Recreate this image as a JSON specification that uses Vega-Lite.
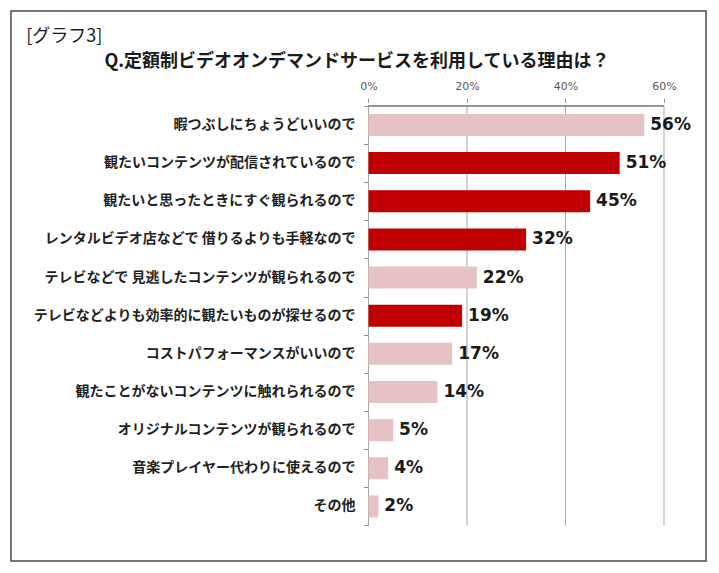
{
  "$schema": "https://vega.github.io/schema/vega-lite/v6.json",
  "autosize": "none",
  "width": 695,
  "height": 550,
  "padding": {"left": 11, "top": 11, "right": 13, "bottom": 12},
  "background": "white",
  "config": {
    "view": {"stroke": "#4a4a4a", "strokeWidth": 1.5},
    "font": "Noto Sans CJK JP"
  },
  "datasets": {
    "reasons": [
      {"rank": 1, "reason": "暇つぶしにちょうどいいので", "pct": 56, "emphasis": "no"},
      {"rank": 2, "reason": "観たいコンテンツが配信されているので", "pct": 51, "emphasis": "yes"},
      {"rank": 3, "reason": "観たいと思ったときにすぐ観られるので", "pct": 45, "emphasis": "yes"},
      {"rank": 4, "reason": "レンタルビデオ店などで 借りるよりも手軽なので", "pct": 32, "emphasis": "yes"},
      {"rank": 5, "reason": "テレビなどで 見逃したコンテンツが観られるので", "pct": 22, "emphasis": "no"},
      {"rank": 6, "reason": "テレビなどよりも効率的に観たいものが探せるので", "pct": 19, "emphasis": "yes"},
      {"rank": 7, "reason": "コストパフォーマンスがいいので", "pct": 17, "emphasis": "no"},
      {"rank": 8, "reason": "観たことがないコンテンツに触れられるので", "pct": 14, "emphasis": "no"},
      {"rank": 9, "reason": "オリジナルコンテンツが観られるので", "pct": 5, "emphasis": "no"},
      {"rank": 10, "reason": "音楽プレイヤー代わりに使えるので", "pct": 4, "emphasis": "no"},
      {"rank": 11, "reason": "その他", "pct": 2, "emphasis": "no"}
    ],
    "grid": [{"g": 0}, {"g": 20}, {"g": 40}, {"g": 60}]
  },
  "layer": [
    {
      "data": {"name": "grid"},
      "mark": {"type": "rule", "color": "#a6a6a6", "strokeWidth": 1},
      "encoding": {
        "x": {"field": "g", "type": "quantitative", "scale": {"domain": [-72.59, 68.53], "nice": false, "zero": false},
          "axis": {"orient": "top", "offset": -91.3, "values": [0, 20, 40, 60], "domain": false, "grid": false, "ticks": true, "tickSize": 4, "tickColor": "#8c8c8c", "labelExpr": "datum.value + '%'", "labelFont": "DejaVu Sans", "labelFontSize": 11, "labelColor": "#595959", "labelPadding": 7, "title": null}},
        "y": {"datum": 0.5, "type": "quantitative", "scale": {"domain": [-1.857, 12.3], "nice": false, "zero": false, "reverse": true},
          "axis": {"orient": "left", "offset": -357.5, "values": [0.5, 1.5, 2.5, 3.5, 4.5, 5.5, 6.5, 7.5, 8.5, 9.5, 10.5, 11.5], "domain": false, "grid": false, "labels": false, "ticks": true, "tickSize": 5, "tickColor": "#8c8c8c", "title": null}},
        "y2": {"datum": 11.5}
      }
    },
    {
      "data": {"name": "grid"},
      "mark": {"type": "rule", "color": "#8c8c8c", "strokeWidth": 1},
      "encoding": {
        "x": {"datum": 0, "type": "quantitative"},
        "x2": {"datum": 60},
        "y": {"datum": 0.5, "type": "quantitative"}
      }
    },
    {
      "data": {"name": "reasons"},
      "mark": {"type": "bar", "orient": "horizontal", "size": 22},
      "encoding": {
        "x": {"field": "pct", "type": "quantitative"},
        "x2": {"datum": 0},
        "y": {"field": "rank", "type": "quantitative"},
        "color": {"field": "emphasis", "type": "nominal", "scale": {"domain": ["no", "yes"], "range": ["#e6c2c4", "#c00000"]}, "legend": null}
      }
    },
    {
      "data": {"name": "reasons"},
      "transform": [{"calculate": "datum.pct + '%'", "as": "label"}],
      "mark": {"type": "text", "align": "left", "baseline": "middle", "dx": 6, "font": "DejaVu Sans", "fontWeight": "bold", "fontSize": 17, "color": "#1a1a1a"},
      "encoding": {
        "x": {"field": "pct", "type": "quantitative"},
        "y": {"field": "rank", "type": "quantitative"},
        "text": {"field": "label"}
      }
    },
    {
      "data": {"name": "reasons"},
      "mark": {"type": "text", "align": "right", "baseline": "middle", "dx": -13, "font": "Noto Sans CJK JP", "fontWeight": "bold", "fontSize": 14, "color": "#1f1f1f"},
      "encoding": {
        "x": {"datum": 0, "type": "quantitative"},
        "y": {"field": "rank", "type": "quantitative"},
        "text": {"field": "reason"}
      }
    },
    {
      "data": {"values": [{"t": "[グラフ3]"}]},
      "mark": {"type": "text", "align": "left", "baseline": "middle", "font": "Noto Sans CJK JP", "fontSize": 18, "color": "#1a1a1a"},
      "encoding": {
        "x": {"datum": -69.5, "type": "quantitative"},
        "y": {"datum": -1.317, "type": "quantitative"},
        "text": {"field": "t"}
      }
    },
    {
      "data": {"values": [{"t": "Q.定額制ビデオオンデマンドサービスを利用している理由は？"}]},
      "mark": {"type": "text", "align": "center", "baseline": "middle", "font": "Noto Sans CJK JP", "fontWeight": "bold", "fontSize": 18, "color": "#1a1a1a"},
      "encoding": {
        "x": {"datum": -2.34, "type": "quantitative"},
        "y": {"datum": -0.647, "type": "quantitative"},
        "text": {"field": "t"}
      }
    }
  ]
}
